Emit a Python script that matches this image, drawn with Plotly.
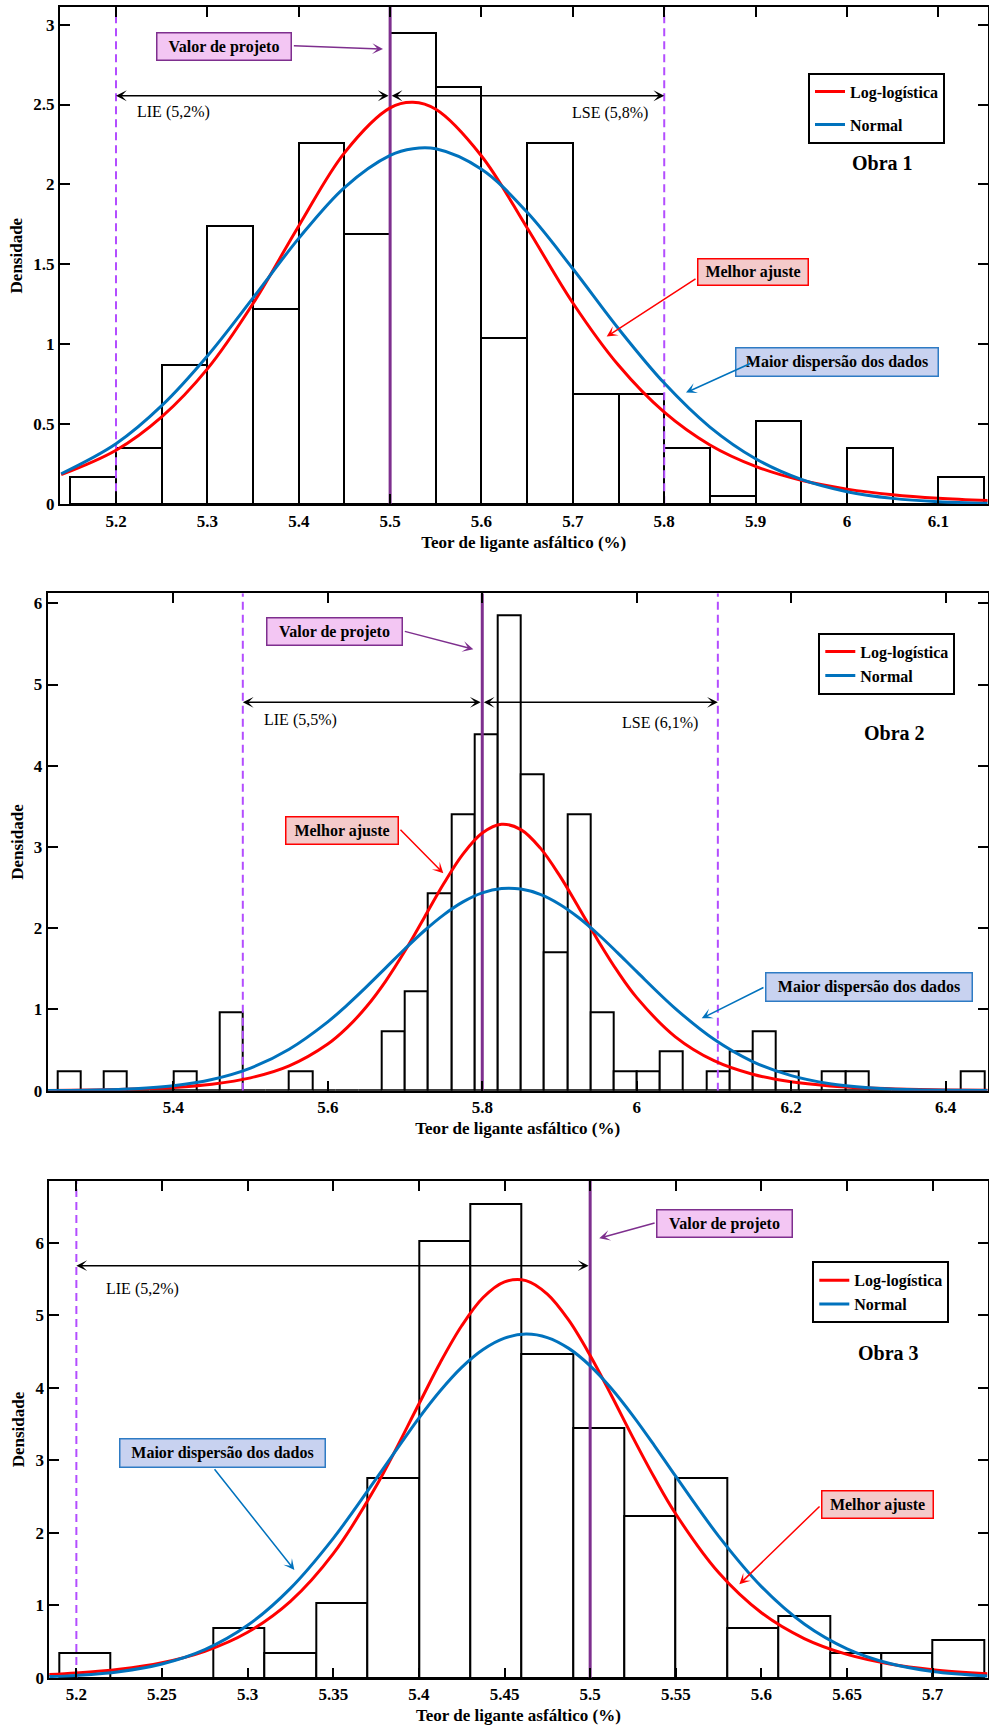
import plotly.graph_objects as go

# ---------------- Obra 1 ----------------
obra1_bin_left = [5.15, 5.20, 5.25, 5.30, 5.35, 5.40, 5.45, 5.50, 5.55, 5.60,
                  5.65, 5.70, 5.75, 5.80, 5.85, 5.90, 5.95, 6.00, 6.05, 6.10]
obra1_bin_width = 0.05
obra1_density = [0.17, 0.35, 0.87, 1.74, 1.22, 2.26, 1.69, 2.95, 2.61, 1.04,
                 2.26, 0.69, 0.69, 0.35, 0.05, 0.52, 0.00, 0.35, 0.00, 0.17]
obra1_curve_x = [5.14, 5.20, 5.25, 5.30, 5.35, 5.40, 5.45, 5.50, 5.525, 5.55, 5.60,
                 5.65, 5.70, 5.75, 5.80, 5.85, 5.90, 5.95, 6.00, 6.05, 6.10, 6.155]
obra1_loglogistica = [0.185, 0.338, 0.547, 0.847, 1.256, 1.741, 2.198, 2.479, 2.514, 2.470, 2.178,
                      1.728, 1.259, 0.869, 0.576, 0.371, 0.237, 0.150, 0.095, 0.060, 0.038, 0.023]
obra1_normal = [0.191, 0.379, 0.617, 0.928, 1.291, 1.663, 1.981, 2.182, 2.224, 2.223, 2.095,
                1.826, 1.473, 1.098, 0.758, 0.483, 0.285, 0.156, 0.079, 0.037, 0.016, 0.006]
obra1_projeto, obra1_lie, obra1_lse = 5.5, 5.2, 5.8
obra1_xticks = [5.2, 5.3, 5.4, 5.5, 5.6, 5.7, 5.8, 5.9, 6.0, 6.1]
obra1_xticklabels = ["5.2", "5.3", "5.4", "5.5", "5.6", "5.7", "5.8", "5.9", "6", "6.1"]
obra1_yticks = [0, 0.5, 1, 1.5, 2, 2.5, 3]
obra1_yticklabels = ["0", "0.5", "1", "1.5", "2", "2.5", "3"]

# ---------------- Obra 2 ----------------
obra2_bin_left = [5.25, 5.28, 5.31, 5.34, 5.37, 5.40, 5.43, 5.46, 5.49, 5.52,
                  5.55, 5.58, 5.61, 5.64, 5.67, 5.70, 5.73, 5.76, 5.79, 5.82,
                  5.85, 5.88, 5.91, 5.94, 5.97, 6.00, 6.03, 6.06, 6.09, 6.12,
                  6.15, 6.18, 6.21, 6.24, 6.27, 6.30, 6.33, 6.36, 6.39, 6.42]
obra2_bin_width = 0.03
obra2_density = [0.24, 0.00, 0.24, 0.00, 0.00, 0.24, 0.00, 0.97, 0.00, 0.00,
                 0.24, 0.00, 0.00, 0.00, 0.73, 1.22, 2.43, 3.40, 4.39, 5.85,
                 3.90, 1.70, 3.40, 0.97, 0.24, 0.24, 0.49, 0.00, 0.24, 0.49,
                 0.73, 0.24, 0.00, 0.24, 0.24, 0.00, 0.00, 0.00, 0.00, 0.24]
obra2_curve_x = [5.237, 5.30, 5.35, 5.40, 5.45, 5.50, 5.55, 5.60, 5.625, 5.65, 5.675,
                 5.70, 5.725, 5.75, 5.775, 5.80, 5.825, 5.85, 5.875, 5.90, 5.925, 5.95,
                 5.975, 6.00, 6.05, 6.10, 6.15, 6.20, 6.25, 6.30, 6.35, 6.40, 6.455]
obra2_loglogistica = [0.004, 0.0098, 0.0199, 0.0401, 0.0799, 0.1576, 0.305, 0.574, 0.776, 1.033, 1.350,
                      1.722, 2.133, 2.547, 2.912, 3.172, 3.280, 3.214, 2.989, 2.650, 2.252, 1.847,
                      1.471, 1.146, 0.663, 0.369, 0.202, 0.109, 0.059, 0.032, 0.017, 0.0095, 0.005]
obra2_normal = [0.0023, 0.0093, 0.0252, 0.0619, 0.1379, 0.2785, 0.511, 0.848, 1.054, 1.278, 1.512,
                1.747, 1.969, 2.165, 2.324, 2.435, 2.489, 2.482, 2.417, 2.296, 2.129, 1.926,
                1.700, 1.465, 1.011, 0.633, 0.359, 0.185, 0.086, 0.037, 0.014, 0.0049, 0.0014]
obra2_projeto, obra2_lie, obra2_lse = 5.8, 5.49, 6.105
obra2_xticks = [5.4, 5.6, 5.8, 6.0, 6.2, 6.4]
obra2_xticklabels = ["5.4", "5.6", "5.8", "6", "6.2", "6.4"]
obra2_yticks = [0, 1, 2, 3, 4, 5, 6]
obra2_yticklabels = ["0", "1", "2", "3", "4", "5", "6"]

# ---------------- Obra 3 ----------------
obra3_bin_left = [5.19, 5.22, 5.25, 5.28, 5.31, 5.34, 5.37, 5.40, 5.43,
                  5.46, 5.49, 5.52, 5.55, 5.58, 5.61, 5.64, 5.67, 5.70]
obra3_bin_width = 0.03
obra3_density = [0.35, 0.00, 0.00, 0.69, 0.34, 1.03, 2.75, 6.02, 6.53,
                 4.47, 3.44, 2.23, 2.75, 0.69, 0.86, 0.34, 0.34, 0.52]
obra3_curve_x = [5.184, 5.20, 5.225, 5.25, 5.275, 5.30, 5.325, 5.35, 5.375, 5.40, 5.4125,
                 5.425, 5.4375, 5.45, 5.4625, 5.475, 5.4875, 5.50, 5.5125, 5.525, 5.5375,
                 5.55, 5.575, 5.60, 5.625, 5.65, 5.675, 5.70, 5.732]
obra3_loglogistica = [0.048, 0.069, 0.121, 0.212, 0.368, 0.630, 1.056, 1.713, 2.642, 3.776, 4.349,
                      4.855, 5.244, 5.460, 5.477, 5.291, 4.931, 4.445, 3.890, 3.313, 2.762,
                      2.260, 1.453, 0.899, 0.544, 0.325, 0.193, 0.114, 0.058]
obra3_normal = [0.0195, 0.036, 0.087, 0.193, 0.391, 0.726, 1.236, 1.925, 2.744, 3.582, 3.959,
                4.281, 4.527, 4.684, 4.740, 4.692, 4.543, 4.303, 3.987, 3.614, 3.204,
                2.778, 1.956, 1.260, 0.744, 0.402, 0.199, 0.090, 0.028]
obra3_projeto, obra3_lie = 5.5, 5.2
obra3_xticks = [5.2, 5.25, 5.3, 5.35, 5.4, 5.45, 5.5, 5.55, 5.6, 5.65, 5.7]
obra3_xticklabels = ["5.2", "5.25", "5.3", "5.35", "5.4", "5.45", "5.5", "5.55", "5.6", "5.65", "5.7"]
obra3_yticks = [0, 1, 2, 3, 4, 5, 6]
obra3_yticklabels = ["0", "1", "2", "3", "4", "5", "6"]

# ---------------- styling ----------------
W, H = 989, 1729
SERIF = "Liberation Serif, Times New Roman, serif"
RED = "#FF0000"
BLUE = "#0072BD"
PURPLE = "#7E2F8E"
VIOLET = "#B34DFF"

fig = go.Figure()


def ax_ids(i):
    s = "" if i == 1 else str(i)
    return "x" + s, "y" + s, "xaxis" + s, "yaxis" + s


def add_hist(i, lefts, width, dens):
    xr, yr, _, _ = ax_ids(i)
    fig.add_trace(go.Bar(
        x=[l + width / 2 for l in lefts], y=dens, width=width,
        marker=dict(color="white", line=dict(color="black", width=2)),
        showlegend=False, hoverinfo="skip", xaxis=xr, yaxis=yr))


def add_vline(i, xv, ytop, color, width, dash):
    xr, yr, _, _ = ax_ids(i)
    fig.add_trace(go.Scatter(
        x=[xv, xv], y=[0, ytop], mode="lines",
        line=dict(color=color, width=width, dash=dash),
        showlegend=False, hoverinfo="skip", xaxis=xr, yaxis=yr))


def add_curves(i, xs, ll, nm, group_gap):
    xr, yr, _, _ = ax_ids(i)
    leg = "legend" if i == 1 else "legend" + str(i)
    fig.add_trace(go.Scatter(
        x=xs, y=ll, mode="lines", name="Log-logística",
        line=dict(color=RED, width=3, shape="spline"),
        legend=leg, legendgroup=f"ll{i}", xaxis=xr, yaxis=yr))
    fig.add_trace(go.Scatter(
        x=xs, y=nm, mode="lines", name="Normal",
        line=dict(color=BLUE, width=3, shape="spline"),
        legend=leg, legendgroup=f"nm{i}", xaxis=xr, yaxis=yr))


def setup_axes(i, box, xrange_, yrange_, xt, xtl, yt, ytl):
    _, _, xa, ya = ax_ids(i)
    xr, yr, _, _ = ax_ids(i)
    left, top, right, bottom = box
    common = dict(showline=True, linecolor="black", linewidth=2, mirror="ticks",
                  ticks="inside", ticklen=10, tickwidth=2, tickcolor="black",
                  showgrid=False, zeroline=False, automargin=False, fixedrange=True,
                  tickfont=dict(family=SERIF, size=17, color="black", weight="bold"))
    fig.update_layout({
        xa: dict(common, domain=[left / W, right / W], range=xrange_, anchor=yr,
                 tickmode="array", tickvals=xt, ticktext=xtl,
                 title=dict(text="Teor de ligante asfáltico (%)", standoff=6,
                            font=dict(family=SERIF, size=17, color="black", weight="bold"))),
        ya: dict(common, domain=[1 - bottom / H, 1 - top / H], range=yrange_, anchor=xr,
                 tickmode="array", tickvals=yt, ticktext=ytl,
                 title=dict(text="Densidade", standoff=6,
                            font=dict(family=SERIF, size=17, color="black", weight="bold"))),
    })


annotations = []


def label_box(i, x, y, text, w, h, fill, edge):
    xr, yr, _, _ = ax_ids(i)
    annotations.append(dict(
        xref=xr, yref=yr, x=x, y=y, text=text, showarrow=False,
        width=w, height=h, bgcolor=fill, bordercolor=edge, borderwidth=1.5, borderpad=2,
        align="center", valign="middle", xanchor="center", yanchor="middle",
        font=dict(family=SERIF, size=16, color="black", weight="bold")))


def pointer(i, x0, y0, x1, y1, color, both=False, width=1.5):
    xr, yr, _, _ = ax_ids(i)
    annotations.append(dict(
        xref=xr, yref=yr, axref=xr, ayref=yr, x=x1, y=y1, ax=x0, ay=y0, text="",
        showarrow=True, arrowhead=3, arrowsize=1.2, arrowwidth=width, arrowcolor=color,
        arrowside="end+start" if both else "end", startarrowhead=3, startarrowsize=1.2,
        standoff=0, startstandoff=0))


def plain_text(i, x, y, text, size=16, bold=False):
    xr, yr, _, _ = ax_ids(i)
    annotations.append(dict(
        xref=xr, yref=yr, x=x, y=y, text=text, showarrow=False,
        xanchor="center", yanchor="middle",
        font=dict(family=SERIF, size=size, color="black", weight="bold" if bold else "normal")))


VALOR = ("Valor de projeto", "#F3C6F3", PURPLE)
MELHOR = ("Melhor ajuste", "#F4CACA", RED)
MAIOR = ("Maior dispersão dos dados", "#C8D2F0", "#2E7BC4")

# ---- Obra 1 ----
y1max = 3.11
add_hist(1, obra1_bin_left, obra1_bin_width, obra1_density)
add_vline(1, obra1_lie, y1max, VIOLET, 2, "8px,5px")
add_vline(1, obra1_lse, y1max, VIOLET, 2, "8px,5px")
add_vline(1, obra1_projeto, y1max, PURPLE, 3, "solid")
add_curves(1, obra1_curve_x, obra1_loglogistica, obra1_normal, 9)
setup_axes(1, (60, 7, 987.5, 504.3), [5.1387, 6.1538], [0, y1max],
           obra1_xticks, obra1_xticklabels, obra1_yticks, obra1_yticklabels)
label_box(1, 5.3187, 2.862, VALOR[0], 129, 22, VALOR[1], VALOR[2])
pointer(1, 5.393, 2.868, 5.4922, 2.847, PURPLE)
pointer(1, obra1_projeto, 2.555, obra1_lie, 2.555, "black", both=True)
pointer(1, obra1_projeto, 2.555, obra1_lse, 2.555, "black", both=True)
plain_text(1, 5.2632, 2.455, "LIE (5,2%)")
plain_text(1, 5.7407, 2.449, "LSE (5,8%)")
plain_text(1, 6.0394, 2.136, "Obra 1", size=20, bold=True)
label_box(1, 5.8975, 1.4537, MELHOR[0], 105, 21, MELHOR[1], MELHOR[2])
pointer(1, 5.8359, 1.4162, 5.737, 1.0488, RED)
label_box(1, 5.9893, 0.8874, MAIOR[0], 197, 23, MAIOR[1], MAIOR[2])
pointer(1, 5.8964, 0.8861, 5.8238, 0.6984, BLUE)

# ---- Obra 2 ----
y2max = 6.123
add_hist(2, obra2_bin_left, obra2_bin_width, obra2_density)
add_vline(2, obra2_lie, y2max, VIOLET, 2, "8px,5px")
add_vline(2, obra2_lse, y2max, VIOLET, 2, "8px,5px")
add_vline(2, obra2_projeto, y2max, PURPLE, 3, "solid")
add_curves(2, obra2_curve_x, obra2_loglogistica, obra2_normal, 0)
setup_axes(2, (47.7, 593.3, 987.5, 1090.7), [5.2374, 6.4541], [0, y2max],
           obra2_xticks, obra2_xticklabels, obra2_yticks, obra2_yticklabels)
label_box(2, 5.6093, 5.657, VALOR[0], 130, 22, VALOR[1], VALOR[2])
pointer(2, 5.6978, 5.659, 5.7884, 5.434, PURPLE)
pointer(2, obra2_projeto, 4.781, obra2_lie, 4.781, "black", both=True)
pointer(2, obra2_projeto, 4.781, obra2_lse, 4.781, "black", both=True)
plain_text(2, 5.5653, 4.564, "LIE (5,5%)")
plain_text(2, 6.0301, 4.523, "LSE (6,1%)")
plain_text(2, 6.3331, 4.40, "Obra 2", size=20, bold=True)
label_box(2, 5.6184, 3.203, MELHOR[0], 107, 22, MELHOR[1], MELHOR[2])
pointer(2, 5.6922, 3.230, 5.7496, 2.676, RED)
label_box(2, 6.3006, 1.280, MAIOR[0], 201, 23, MAIOR[1], MAIOR[2])
pointer(2, 6.166, 1.280, 6.0841, 0.891, BLUE)

# ---- Obra 3 ----
y3max = 6.85
add_hist(3, obra3_bin_left, obra3_bin_width, obra3_density)
add_vline(3, obra3_lie, y3max, VIOLET, 2, "8px,5px")
add_vline(3, obra3_projeto, y3max, PURPLE, 3, "solid")
add_curves(3, obra3_curve_x, obra3_loglogistica, obra3_normal, 0)
setup_axes(3, (49.3, 1181, 987.5, 1678), [5.1842, 5.732], [0, y3max],
           obra3_xticks, obra3_xticklabels, obra3_yticks, obra3_yticklabels)
label_box(3, 5.5783, 6.262, VALOR[0], 130, 22, VALOR[1], VALOR[2])
pointer(3, 5.5385, 6.276, 5.5053, 6.061, PURPLE)
pointer(3, obra3_projeto, 5.683, obra3_lie, 5.683, "black", both=True)
plain_text(3, 5.2384, 5.362, "LIE (5,2%)")
plain_text(3, 5.6741, 4.476, "Obra 3", size=20, bold=True)
label_box(3, 5.2854, 3.108, MAIOR[0], 200, 23, MAIOR[1], MAIOR[2])
pointer(3, 5.28, 2.899, 5.3273, 1.489, BLUE)
label_box(3, 5.6679, 2.385, MELHOR[0], 106, 22, MELHOR[1], MELHOR[2])
pointer(3, 5.6348, 2.385, 5.5871, 1.2915, RED)

legend_style = dict(bgcolor="white", bordercolor="black", borderwidth=2,
                    font=dict(family=SERIF, size=16, color="black", weight="bold"),
                    xanchor="left", yanchor="top", itemwidth=30)

fig.update_layout(
    width=W, height=H, margin=dict(l=0, r=0, t=0, b=0),
    paper_bgcolor="white", plot_bgcolor="white",
    barmode="overlay", bargap=0, showlegend=True,
    legend=dict(legend_style, x=808 / W, y=1 - 72.7 / H, tracegroupgap=9),
    legend2=dict(legend_style, x=818.3 / W, y=1 - 632.7 / H, tracegroupgap=0),
    legend3=dict(legend_style, x=812.3 / W, y=1 - 1261.3 / H, tracegroupgap=0),
    annotations=annotations,
)

fig.write_html("out.html")
